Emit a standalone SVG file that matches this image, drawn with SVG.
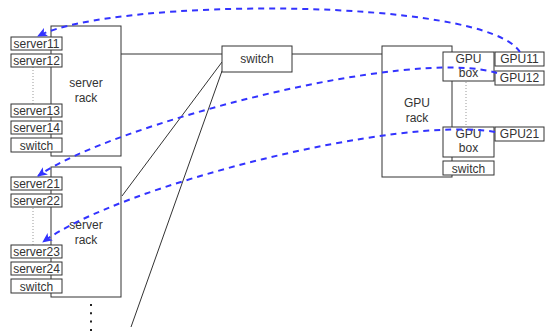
<svg xmlns="http://www.w3.org/2000/svg" width="545" height="335" viewBox="0 0 545 335">
  <defs>
    <style>
      .box { fill: #ffffff; stroke: #333333; stroke-width: 1; }
      .lbl { font-family: "Liberation Sans", Arial, sans-serif; font-size: 12px; fill: #333333; text-anchor: middle; }
      .link { fill: none; stroke: #333333; stroke-width: 1; }
      .dots { fill: none; stroke: #999999; stroke-width: 1; stroke-dasharray: 1 2; }
      .more { fill: none; stroke: #222222; stroke-width: 2; stroke-dasharray: 2 6.3; }
      .flow { fill: none; stroke: #3333ff; stroke-width: 2; stroke-dasharray: 6 5; }
    </style>
    <marker id="arrow" viewBox="0 0 10 10" refX="9" refY="5" markerWidth="10" markerHeight="10" markerUnits="userSpaceOnUse" orient="auto">
      <path d="M0,0.5 L10,5 L0,9.5 L2.5,5 z" fill="#3333ff"/>
    </marker>
  </defs>

  <rect width="545" height="335" fill="#ffffff"/>

  <!-- links between racks and switch -->
  <g id="links">
    <line class="link" x1="121" y1="54" x2="222" y2="54"/>
    <line class="link" x1="292" y1="54" x2="382" y2="54"/>
    <line class="link" x1="222" y1="62" x2="122" y2="196"/>
    <line class="link" x1="222" y1="71" x2="131" y2="327"/>
    <line class="more" x1="91" y1="304" x2="91" y2="332"/>
  </g>

  <!-- server rack 1 -->
  <g id="rack1">
    <rect class="box" x="51" y="26" width="70" height="130"/>
    <text class="lbl" x="86" y="87">server</text>
    <text class="lbl" x="86" y="102">rack</text>
    <line class="dots" x1="33" y1="67" x2="33" y2="104"/>
  </g>
  <g id="server11"><rect class="box" x="11" y="37" width="51" height="13"/><text class="lbl" x="36.5" y="48">server11</text></g>
  <g id="server12"><rect class="box" x="11" y="54" width="51" height="13"/><text class="lbl" x="36.5" y="65">server12</text></g>
  <g id="server13"><rect class="box" x="11" y="104" width="51" height="13"/><text class="lbl" x="36.5" y="115">server13</text></g>
  <g id="server14"><rect class="box" x="11" y="121" width="51" height="13"/><text class="lbl" x="36.5" y="132">server14</text></g>
  <g id="rack1-switch"><rect class="box" x="11" y="138" width="51" height="14"/><text class="lbl" x="36.5" y="149.5">switch</text></g>

  <!-- server rack 2 -->
  <g id="rack2">
    <rect class="box" x="51" y="167" width="70" height="130"/>
    <text class="lbl" x="86" y="229">server</text>
    <text class="lbl" x="86" y="244">rack</text>
    <line class="dots" x1="33" y1="208" x2="33" y2="245"/>
  </g>
  <g id="server21"><rect class="box" x="11" y="177" width="51" height="13"/><text class="lbl" x="36.5" y="188">server21</text></g>
  <g id="server22"><rect class="box" x="11" y="194" width="51" height="13"/><text class="lbl" x="36.5" y="205">server22</text></g>
  <g id="server23"><rect class="box" x="11" y="245" width="51" height="13"/><text class="lbl" x="36.5" y="256">server23</text></g>
  <g id="server24"><rect class="box" x="11" y="262" width="51" height="13"/><text class="lbl" x="36.5" y="273">server24</text></g>
  <g id="rack2-switch"><rect class="box" x="11" y="279" width="51" height="14"/><text class="lbl" x="36.5" y="290.5">switch</text></g>

  <!-- core switch -->
  <g id="core-switch">
    <rect class="box" x="222" y="46" width="70" height="26"/>
    <text class="lbl" x="257" y="63">switch</text>
  </g>

  <!-- GPU rack -->
  <g id="gpu-rack">
    <rect class="box" x="382" y="46" width="70" height="131"/>
    <text class="lbl" x="417" y="107">GPU</text>
    <text class="lbl" x="417" y="122">rack</text>
    <line class="dots" x1="466" y1="82" x2="466" y2="127"/>
  </g>
  <g id="gpu-box1">
    <rect class="box" x="443" y="52" width="51" height="29"/>
    <text class="lbl" x="468.5" y="62.5">GPU</text>
    <text class="lbl" x="468.5" y="77">box</text>
  </g>
  <g id="gpu11"><rect class="box" x="495" y="52" width="49" height="14"/><text class="lbl" x="519.5" y="63">GPU11</text></g>
  <g id="gpu12"><rect class="box" x="495" y="71" width="49" height="14"/><text class="lbl" x="519.5" y="82">GPU12</text></g>
  <g id="gpu-box2">
    <rect class="box" x="443" y="127" width="51" height="30"/>
    <text class="lbl" x="468.5" y="137.5">GPU</text>
    <text class="lbl" x="468.5" y="152">box</text>
  </g>
  <g id="gpu21"><rect class="box" x="495" y="127" width="49" height="14"/><text class="lbl" x="519.5" y="138">GPU21</text></g>
  <g id="gpu-switch"><rect class="box" x="443" y="161" width="51" height="14"/><text class="lbl" x="468.5" y="172.5">switch</text></g>

  <!-- GPU to server data paths -->
  <g id="connectors">
    <path class="flow" d="M520,52 C485,-3 115,-3 38,36" marker-end="url(#arrow)"/>
    <path class="flow" d="M497,73 C410,46 110,125 38,176" marker-end="url(#arrow)"/>
    <path class="flow" d="M495,132 C400,115 120,185 43,242" marker-end="url(#arrow)"/>
  </g>
</svg>
